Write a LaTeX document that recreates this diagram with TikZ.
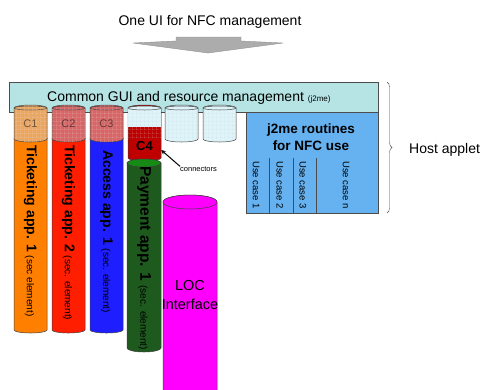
\documentclass[tikz,border=0pt]{standalone}
\usepackage{fontspec}
\setmainfont{Liberation Sans}
\usetikzlibrary{positioning, patterns, decorations.pathreplacing, arrows}

\definecolor{guiteal}{RGB}{182,228,228}
\definecolor{routblue}{RGB}{102,178,240}
\definecolor{slotcyan}{RGB}{224,244,248}
\definecolor{gridblue}{RGB}{170,212,226}
\definecolor{tickorange}{RGB}{255,128,0}
\definecolor{tickred}{RGB}{255,30,0}
\definecolor{accblue}{RGB}{30,30,255}
\definecolor{paygreen}{RGB}{30,90,30}
\definecolor{locpink}{RGB}{255,0,255}
\definecolor{cfour}{RGB}{190,0,0}

% open grid for the connector slots
\pgfdeclarepatternformonly{slotgrid}{\pgfpointorigin}{\pgfqpoint{4pt}{4pt}}{\pgfqpoint{4pt}{4pt}}{%
  \pgfsetlinewidth{0.5pt}
  \pgfpathmoveto{\pgfqpoint{0pt}{0pt}}\pgfpathlineto{\pgfqpoint{4pt}{0pt}}
  \pgfpathmoveto{\pgfqpoint{0pt}{0pt}}\pgfpathlineto{\pgfqpoint{0pt}{4pt}}
  \pgfusepath{stroke}}

% tube: left x, right x, top y, bottom y, ellipse height, path options
\newcommand\tube[6]{%
  \path[tubeline, #6] (#1,#3) -- (#1,#4)
    arc[start angle=180, end angle=0, x radius={(#2-#1)/2}, y radius=#5] -- (#2,#3)
    arc[start angle=0, end angle=-180, x radius={(#2-#1)/2}, y radius=#5] -- cycle;}
% top of a tube: left x, right x, y, ellipse height, path options
\newcommand\tubecap[5]{%
  \path[tubeline, #5] ({(#1+#2)/2},#3) ellipse[x radius={(#2-#1)/2}, y radius=#4];}
% connector slot under the GUI bar
\newcommand\slotcyl[3]{%
  \tube{#1}{#2}{108}{139}{3}{#3}
  \tubecap{#1}{#2}{108}{2}{#3}}
\newcommand\secnote[1]{{\mdseries\fontsize{10}{10}\selectfont #1}}

\begin{document}
\begin{tikzpicture}[x=1pt, y=-1pt, >=stealth,
  tubeline/.style={draw=black!75, line width=0.5pt},
  gridded/.style={postaction={pattern=slotgrid, pattern color=#1}},
  label/.style={inner sep=0pt, font=\fontsize{14}{16}\selectfont},
  apptext/.style={rotate=-90, anchor=west, inner sep=0pt, font=\bfseries\fontsize{14}{14}\selectfont},
  usecase/.style={rotate=-90, anchor=west, inner sep=0pt, font=\fontsize{9.5}{10}\selectfont},
  slotlabel/.style={inner sep=0pt, text opacity=0.5, font=\fontsize{11}{11}\selectfont}]

\fill[white] (0,0) rectangle (486,389);
\useasboundingbox (0,0) rectangle (486,389);

% title with the flat arrow under it
\node[label] (title) at (210,22) {One UI for NFC management};
\fill[gray!65, draw=gray!85] (176,37) -- (241,37) -- (241,41) -- (283,43) -- (208,53) -- (133,43) -- (176,41) -- cycle;

% host applet frame
\draw[fill=guiteal, draw=black!70] (9,82) rectangle (378,112);
\node[label, anchor=west] (gui) at (47,98) {Common GUI and resource management {\fontsize{8}{8}\selectfont(j2me)}};
\draw[fill=routblue, draw=black!70] (246,112) rectangle (378,213);
\node[label, font=\bfseries\fontsize{13.5}{17}\selectfont, align=center] (routines) at (311,137) {j2me routines\\for NFC use};
\foreach \x in {269,293,316}
  \draw[black!70] (\x,158) -- (\x,213);
\node[usecase] (uc1) at (256,161) {Use case 1};
\node[usecase] (uc2) at (280,161) {Use case 2};
\node[usecase] (uc3) at (303,161) {Use case 3};
\node[usecase] (ucn) at (346,161) {Use case n};

\draw[decorate, decoration={brace, amplitude=5pt}, black!70] (387,82) -- (387,213);
\coordinate (bracetip) at (393,150);
\node[label, anchor=west] (host) [right=16pt of bracetip] {Host applet};

% secure element applications
\tube{14}{47}{138}{330}{3}{fill=tickorange}
\tube{52}{85}{138}{330}{3}{fill=tickred}
\tube{90}{123}{138}{330}{3}{fill=accblue}
\slotcyl{14}{47}{fill=tickorange!55!brown!70!white, gridded=white!85!gray}
\slotcyl{52}{85}{fill=cfour!60!white, gridded=white!85!gray}
\slotcyl{90}{123}{fill=cfour!60!white, gridded=white!85!gray}
\slotcyl{165}{198}{fill=slotcyan, gridded=gridblue}
\slotcyl{203}{236}{fill=slotcyan, gridded=gridblue}

% slot C4, half filled
\tube{128}{161}{108}{158}{3}{fill=cfour}
\path[fill=slotcyan, gridded=gridblue] (128.3,108) rectangle (160.7,127);
\path[pattern=slotgrid, pattern color=white!80!gray] (128.3,127) rectangle (160.7,138);
\tubecap{128}{161}{108}{2}{fill=slotcyan, gridded=gridblue}

\node[slotlabel] (c1) at (30.5,124) {C1};
\node[slotlabel] (c2) at (68.5,124) {C2};
\node[slotlabel] (c3) at (106.5,124) {C3};

\tube{127}{161}{163}{348}{4}{fill=paygreen}
\tubecap{127}{161}{163}{4}{fill=paygreen!70!green}
\tube{163}{217}{202}{392}{7}{fill=locpink}
\tubecap{163}{217}{202}{7}{fill=locpink}

\node[apptext] (tick1) at (30.5,145) {Ticketing app. 1 \secnote{(sec element)}};
\node[apptext] (tick2) at (68.5,145) {Ticketing app. 2 \secnote{(sec. element)}};
\node[apptext] (acc1) at (106.5,150) {Access app. 1 \secnote{(sec. element)}};
\node[apptext, font=\bfseries\fontsize{15.5}{16}\selectfont] (pay1) at (144,166) {Payment app. 1 \secnote{(sec. element)}};
\node[align=center, font=\fontsize{14.5}{19}\selectfont] (loc) at (190,295) {LOC\\Interface};

\node[font=\bfseries\fontsize{13}{13}\selectfont, minimum width=33pt, minimum height=18pt, inner sep=0pt] (c4) at (144.5,146) {C4};
\node[font=\fontsize{7.5}{8}\selectfont, anchor=west, inner sep=0pt] (conn) at (180,169) {connectors};
\draw[->, line width=1pt] (conn.north west) -- ([yshift=-4pt]c4.east);

\end{tikzpicture}
\end{document}
